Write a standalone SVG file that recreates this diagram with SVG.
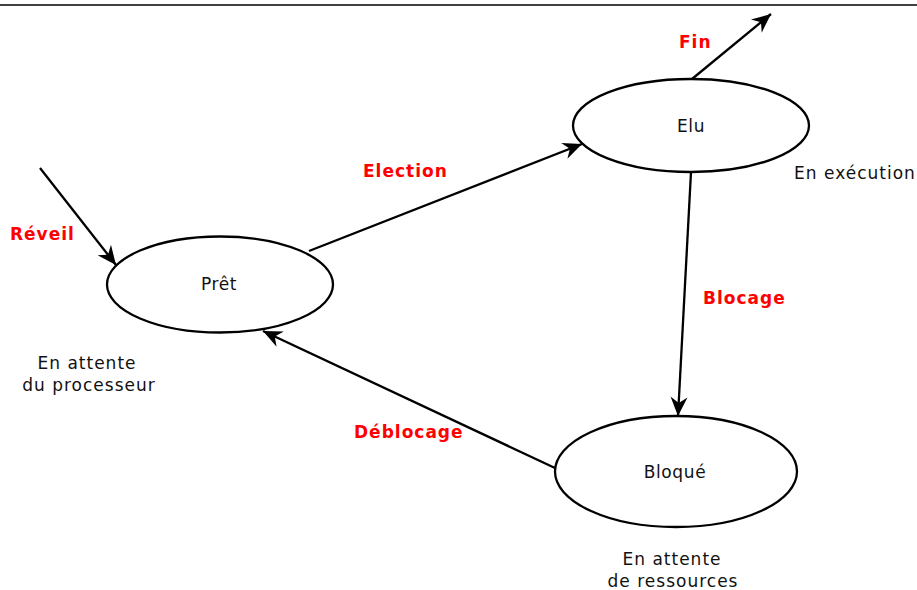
<svg xmlns="http://www.w3.org/2000/svg" width="917" height="590" viewBox="0 0 917 590">
  <style>
    .state { fill: #ffffff; stroke: #000000; stroke-width: 2.3; }
    .name { font-family: "DejaVu Sans", sans-serif; font-size: 17px; fill: #111111; text-anchor: middle; letter-spacing: 0.6px; }
    .note { font-family: "DejaVu Sans", sans-serif; font-size: 17px; fill: #111111; text-anchor: middle; letter-spacing: 1px; }
    .trans { font-family: "DejaVu Sans", sans-serif; font-size: 17px; font-weight: bold; fill: #ff0000; letter-spacing: 1px; }
    .edge { stroke: #000000; stroke-width: 2.3; fill: none; marker-end: url(#head); }
  </style>
  <defs>
    <marker id="head" markerUnits="userSpaceOnUse" markerWidth="24" markerHeight="22" viewBox="-22 -11 24 22" refX="0" refY="0" orient="auto">
      <path d="M0,0 L-19,-8.5 L-13,0 L-19,8.5 Z" fill="#000000"/>
    </marker>
  </defs>

  <rect x="0" y="0" width="917" height="590" fill="#ffffff"/>
  <line x1="0" y1="5" x2="917" y2="5" stroke="#000000" stroke-width="1.6"/>

  <g id="connectors">
    <line class="edge" x1="40" y1="168" x2="116" y2="265"/>
    <line class="edge" x1="309" y1="251" x2="582" y2="144"/>
    <line class="edge" x1="692" y1="79" x2="771" y2="14"/>
    <line class="edge" x1="691" y1="172" x2="678" y2="416"/>
    <line class="edge" x1="555" y1="468" x2="263" y2="331"/>
  </g>

  <g id="pret">
    <ellipse class="state" cx="220" cy="284.5" rx="113" ry="48"/>
    <text class="name" x="219" y="290">Prêt</text>
  </g>
  <g id="elu">
    <ellipse class="state" cx="691" cy="125.5" rx="118" ry="46.5"/>
    <text class="name" x="691" y="132">Elu</text>
  </g>
  <g id="bloque">
    <ellipse class="state" cx="676" cy="471.5" rx="121" ry="55.5"/>
    <text class="name" x="675" y="478">Bloqué</text>
  </g>

  <g id="notes">
    <text class="note" x="87" y="369">En attente</text>
    <text class="note" x="89" y="391">du processeur</text>
    <text class="note" x="855" y="179">En exécution</text>
    <text class="note" x="672" y="565">En attente</text>
    <text class="note" x="673" y="587">de ressources</text>
  </g>

  <g id="labels">
    <text class="trans" x="10" y="240">Réveil</text>
    <text class="trans" x="363" y="177">Election</text>
    <text class="trans" x="679" y="48">Fin</text>
    <text class="trans" x="703" y="304">Blocage</text>
    <text class="trans" x="354" y="438">Déblocage</text>
  </g>
</svg>
